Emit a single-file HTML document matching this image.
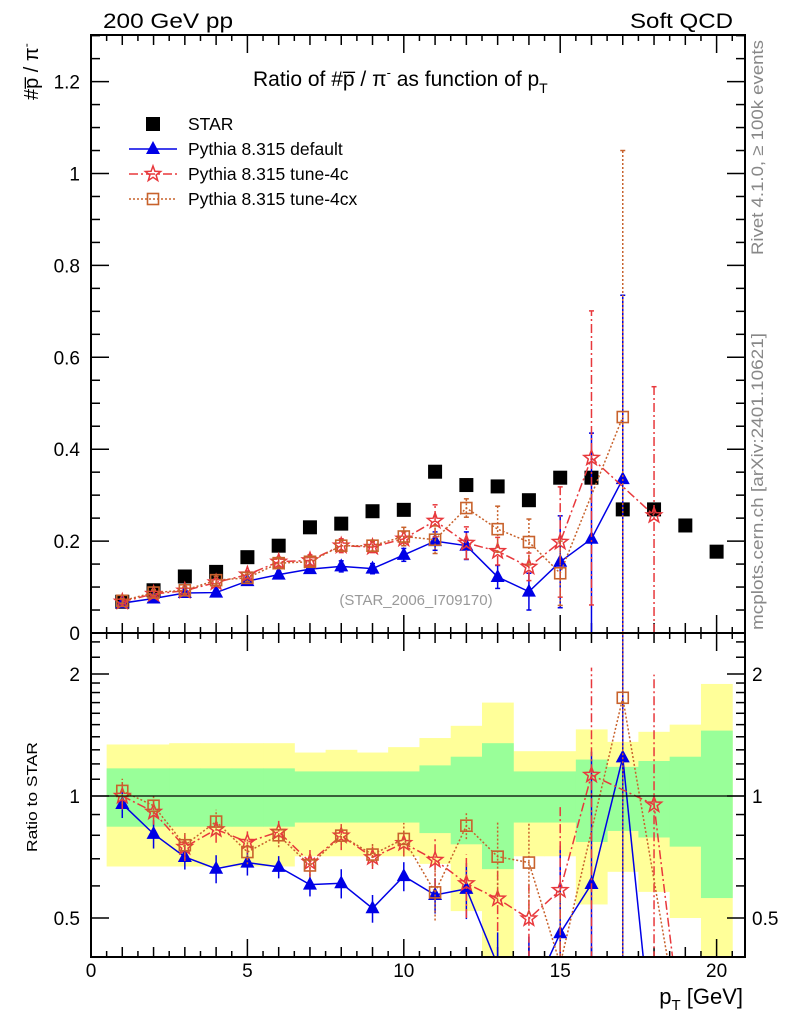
<!DOCTYPE html>
<html><head><meta charset="utf-8"><style>
html,body{margin:0;padding:0;background:#fff;width:786px;height:1024px;overflow:hidden;}
svg{display:block;font-family:"Liberation Sans",Arial,sans-serif;}
</style></head><body>
<svg id="chart" width="786" height="1024" viewBox="0 0 786 1024" xmlns="http://www.w3.org/2000/svg">
<defs>
<clipPath id="clipMain"><rect x="91" y="35" width="654" height="598"/></clipPath>
<clipPath id="clipRatio"><rect x="91" y="633" width="654" height="324"/></clipPath>
</defs>
<g id="bands" clip-path="url(#clipRatio)"></g>
<g id="axes"></g>
<g id="mainMarks" clip-path="url(#clipMain)"></g>
<g id="ratioMarks" clip-path="url(#clipRatio)"></g>
<rect x="91" y="35" width="654" height="598" fill="none" stroke="#000" stroke-width="2"/>
<rect x="91" y="633" width="654" height="324" fill="none" stroke="#000" stroke-width="2"/>
<line x1="91" y1="796" x2="745" y2="796" stroke="#000" stroke-width="1.2"/>
<text x="103" y="28" font-size="21" textLength="130" lengthAdjust="spacingAndGlyphs">200 GeV pp</text>
<text x="630" y="28" font-size="21" textLength="103" lengthAdjust="spacingAndGlyphs">Soft QCD</text>
<text x="253" y="86" font-size="21">Ratio of #p̅ / π<tspan font-size="13" dy="-9">-</tspan><tspan dy="9"> as function of p</tspan><tspan font-size="14" dy="7">T</tspan></text>
<text transform="translate(38,100) rotate(-90)" font-size="20">#p̅ / π<tspan font-size="12" dy="-8">-</tspan></text>
<text transform="translate(37,852) rotate(-90)" font-size="15" textLength="110" lengthAdjust="spacingAndGlyphs">Ratio to STAR</text>
<text x="743" y="1004" font-size="22" text-anchor="end">p<tspan font-size="15" dy="6">T</tspan><tspan dy="-6"> [GeV]</tspan></text>
<text transform="translate(763,255) rotate(-90)" font-size="17" fill="#888" textLength="215" lengthAdjust="spacingAndGlyphs">Rivet 4.1.0, ≥ 100k events</text>
<text transform="translate(763,630) rotate(-90)" font-size="17" fill="#888" textLength="297" lengthAdjust="spacingAndGlyphs">mcplots.cern.ch [arXiv:2401.10621]</text>
<text x="416" y="605" font-size="15" fill="#999" text-anchor="middle">(STAR_2006_I709170)</text>
<g id="legend"></g>
</svg>
<script>
const xs = [1,2,3,4,5,6,7,8,9,10,11,12,13,14,15,16,17,18,19,20];
const starVals = [0.068,0.093,0.123,0.133,0.165,0.19,0.23,0.238,0.265,0.268,0.351,0.322,0.319,0.289,0.338,0.338,0.269,0.269,0.234,0.177];
const defVals = [0.065,0.075,0.087,0.088,0.113,0.127,0.139,0.145,0.14,0.17,0.2,0.19,0.122,0.09,0.155,0.205,0.335,0,null,null];
const defErr  = [0.005,0.006,0.006,0.007,0.008,0.008,0.009,0.012,0.011,0.014,0.02,0.03,0.025,0.04,0.1,0.23,0.4,0,null,null];
const c4Vals = [0.068,0.085,0.092,0.11,0.127,0.155,0.158,0.19,0.187,0.205,0.244,0.196,0.178,0.144,0.198,0.381,null,0.256,0,null];
const c4Err  = [0.005,0.006,0.007,0.008,0.008,0.01,0.012,0.015,0.012,0.015,0.035,0.035,0.03,0.03,0.12,0.32,null,0.28,0,null];
const cxVals = [0.07,0.088,0.093,0.115,0.12,0.152,0.155,0.19,0.19,0.21,0.203,0.272,0.226,0.198,0.13,null,0.47,null,0,null];
const cxErr  = [0.005,0.006,0.007,0.008,0.008,0.01,0.01,0.012,0.012,0.02,0.03,0.02,0.05,0.05,0.07,null,0.58,null,0,null];
const greenHi = [1.17,1.17,1.17,1.17,1.17,1.17,1.15,1.15,1.15,1.15,1.19,1.25,1.35,1.15,1.15,1.23,1.18,1.22,1.25,1.45];
const greenLo = [0.84,0.84,0.84,0.84,0.84,0.84,0.86,0.86,0.86,0.86,0.81,0.76,0.66,0.86,0.86,0.77,0.82,0.79,0.75,0.56];
const yellowHi = [1.34,1.34,1.35,1.35,1.35,1.35,1.28,1.30,1.28,1.32,1.39,1.49,1.70,1.29,1.29,1.46,1.36,1.44,1.50,1.89];
const yellowLo = [0.67,0.67,0.67,0.67,0.67,0.67,0.71,0.71,0.71,0.71,0.68,0.52,0.3,0.71,0.71,0.54,0.65,0.58,0.50,0.3];
const mainTicks = [0,0.2,0.4,0.6,0.8,1,1.2];
const mainTickLabels = ["0","0.2","0.4","0.6","0.8","1","1.2"];
const xTicks = [0,5,10,15,20];
const ratioTicks = [0.5,1,2];
const ratioMinor = [0.4,0.6,0.7,0.8,0.9,1.1,1.2,1.3,1.4,1.5,1.6,1.7,1.8,1.9,2.2,2.4];

const NS="http://www.w3.org/2000/svg";
const X = v => 91 + v*31.28;
const Y = v => 633 - v*459.5;
const R = r => 796 - 122*Math.log2(r);
function mk(tag, parent, attrs){const e=document.createElementNS(NS,tag);for(const k in attrs)e.setAttribute(k,attrs[k]);parent.appendChild(e);return e;}
const axes=document.getElementById('axes');
for(let v=0; v<=1.3001; v+=0.05){
  const y=Y(v); const major=Math.abs(v/0.2-Math.round(v/0.2))<1e-6;
  const l=major?18:9;
  const t1=mk('line',axes,{x1:91,x2:91+l,y1:y,y2:y,stroke:'#000','stroke-width':1.5});
  
  
  const t2=mk('line',axes,{x1:745,x2:745-l,y1:y,y2:y,stroke:'#000','stroke-width':1.5});
  
  
}
mainTicks.forEach((v,i)=>{
  const t=mk('text',axes,{x:80,y:Y(v)+7,'font-size':19,'text-anchor':'end'});
  t.textContent=mainTickLabels[i];
  
  
});
for(let v=0; v<=20.75; v+=0.5){
  const x=X(v); const major=Math.abs(v%5)<1e-6; const mid=Math.abs(v%1)<1e-6;
  const l=major?18:(mid?10:6);
  [[633,-1],[35,1],[957,-1],[633,1]].forEach(([y0,d])=>{
    const t=mk('line',axes,{x1:x,x2:x,y1:y0,y2:y0+d*l,stroke:'#000','stroke-width':1.5});
    
    
  });
}
xTicks.forEach(v=>{
  const t=mk('text',axes,{x:X(v),y:977,'font-size':19,'text-anchor':'middle'});
  t.textContent=String(v);
  
  
});
ratioTicks.concat(ratioMinor).forEach((r,i)=>{
  const l=i<ratioTicks.length?18:9; const y=R(r);
  const t=mk('line',axes,{x1:91,x2:91+l,y1:y,y2:y,stroke:'#000','stroke-width':1.5});
  
  
  const t2=mk('line',axes,{x1:745,x2:745-l,y1:y,y2:y,stroke:'#000','stroke-width':1.5});
  
  
});
ratioTicks.forEach(r=>{
  const a=mk('text',axes,{x:80,y:R(r)+7,'font-size':19,'text-anchor':'end'});a.textContent=String(r);
  
  
  const b=mk('text',axes,{x:752,y:R(r)+7,'font-size':19});b.textContent=String(r);
  
  
});
const bands=document.getElementById('bands');
xs.forEach((x,i)=>{
  const ry=mk('rect',bands,{x:X(x-0.5),width:X(x+0.5)-X(x-0.5)+0.5,y:R(yellowHi[i]),height:R(yellowLo[i])-R(yellowHi[i]),fill:'#ffff99'});
  
  
});
xs.forEach((x,i)=>{
  const rg=mk('rect',bands,{x:X(x-0.5),width:X(x+0.5)-X(x-0.5)+0.5,y:R(greenHi[i]),height:R(greenLo[i])-R(greenHi[i]),fill:'#99ff99'});
  
  
});
function marker(g,type,x,y,color){
  let e;
  if(type==='sq') e=mk('rect',g,{x:x-7,y:y-7,width:14,height:14,fill:'#000'});
  else if(type==='tri') e=mk('path',g,{d:`M${x},${y-8}L${x+7},${y+5}L${x-7},${y+5}Z`,fill:color});
  else if(type==='box') e=mk('rect',g,{x:x-5.5,y:y-5.5,width:11,height:11,fill:'none',stroke:color,'stroke-width':1.6});
  else { let d='';for(let k=0;k<10;k++){const a=-Math.PI/2+k*Math.PI/5;const rr=k%2?3.3:8;d+=(k?'L':'M')+(x+rr*Math.cos(a)).toFixed(1)+','+(y+rr*Math.sin(a)).toFixed(1);} e=mk('path',g,{d:d+'Z',fill:'none',stroke:color,'stroke-width':1.5}); }
  return e;
}
const series=[
  {name:'default',vals:defVals,err:defErr,color:'#0000e6',dash:'none',m:'tri',w:1.5},
  {name:'tune-4c',vals:c4Vals,err:c4Err,color:'#e8383c',dash:'9,3,2,3',m:'star',w:1.5},
  {name:'tune-4cx',vals:cxVals,err:cxErr,color:'#c8622c',dash:'2,2',m:'box',w:1.5}
];
const mainG=document.getElementById('mainMarks'), ratG=document.getElementById('ratioMarks');
xs.forEach((x,i)=>{
  const s=marker(mainG,'sq',X(x),Y(starVals[i]));
  
  
});
series.forEach(S=>{
  let pm=[],pr=[];
  xs.forEach((x,i)=>{
    const v=S.vals[i]; if(v===null) return;
    if(v>0) pm.push([X(x),Y(v)]);
    const r=Math.max(v/starVals[i],0.22);
    pr.push([X(x),R(r)]);
  });
  const l1=mk('polyline',mainG,{points:pm.map(p=>p.join(',')).join(' '),fill:'none',stroke:S.color,'stroke-width':S.w,'stroke-dasharray':S.dash});
  
  
  const l2=mk('polyline',ratG,{points:pr.map(p=>p.join(',')).join(' '),fill:'none',stroke:S.color,'stroke-width':S.w,'stroke-dasharray':S.dash});
  
  
  xs.forEach((x,i)=>{
    const v=S.vals[i]; if(v===null||v===0) return; const e=S.err[i];
    const lo=Math.max(v-e,0.0001), hi=v+e;
    const eb=mk('line',mainG,{x1:X(x),x2:X(x),y1:Y(lo),y2:Y(hi),stroke:S.color,'stroke-width':1.5,'stroke-dasharray':S.dash});
    
    
    const eb2=mk('line',ratG,{x1:X(x),x2:X(x),y1:R(Math.max(lo/starVals[i],0.2)),y2:R(hi/starVals[i]),stroke:S.color,'stroke-width':1.5,'stroke-dasharray':S.dash});
    
    
    [Y(hi),Y(lo)].forEach(yy=>{const c=mk('line',mainG,{x1:X(x)-2.5,x2:X(x)+2.5,y1:yy,y2:yy,stroke:S.color,'stroke-width':1.5});
      
      });
    const m1=marker(mainG,S.m,X(x),Y(v),S.color);
    
    
    const m2=marker(ratG,S.m,X(x),R(v/starVals[i]),S.color);
    
    
  });
});
const lg=document.getElementById('legend');
const legendNames=['STAR','Pythia 8.315 default','Pythia 8.315 tune-4c','Pythia 8.315 tune-4cx'];
legendNames.forEach((n,i)=>{
  const y=124+i*25;
  const g=mk('g',lg,{});
  
  
  if(i===0){marker(g,'sq',153,y);}
  else{const S=series[i-1];
    mk('line',g,{x1:129,x2:177,y1:y,y2:y,stroke:S.color,'stroke-width':1.5,'stroke-dasharray':S.dash});
    marker(g,S.m,153,y,S.color);}
  const t=mk('text',g,{x:188,y:y+6,'font-size':17.5});t.textContent=n;
});
</script>
</body></html>
